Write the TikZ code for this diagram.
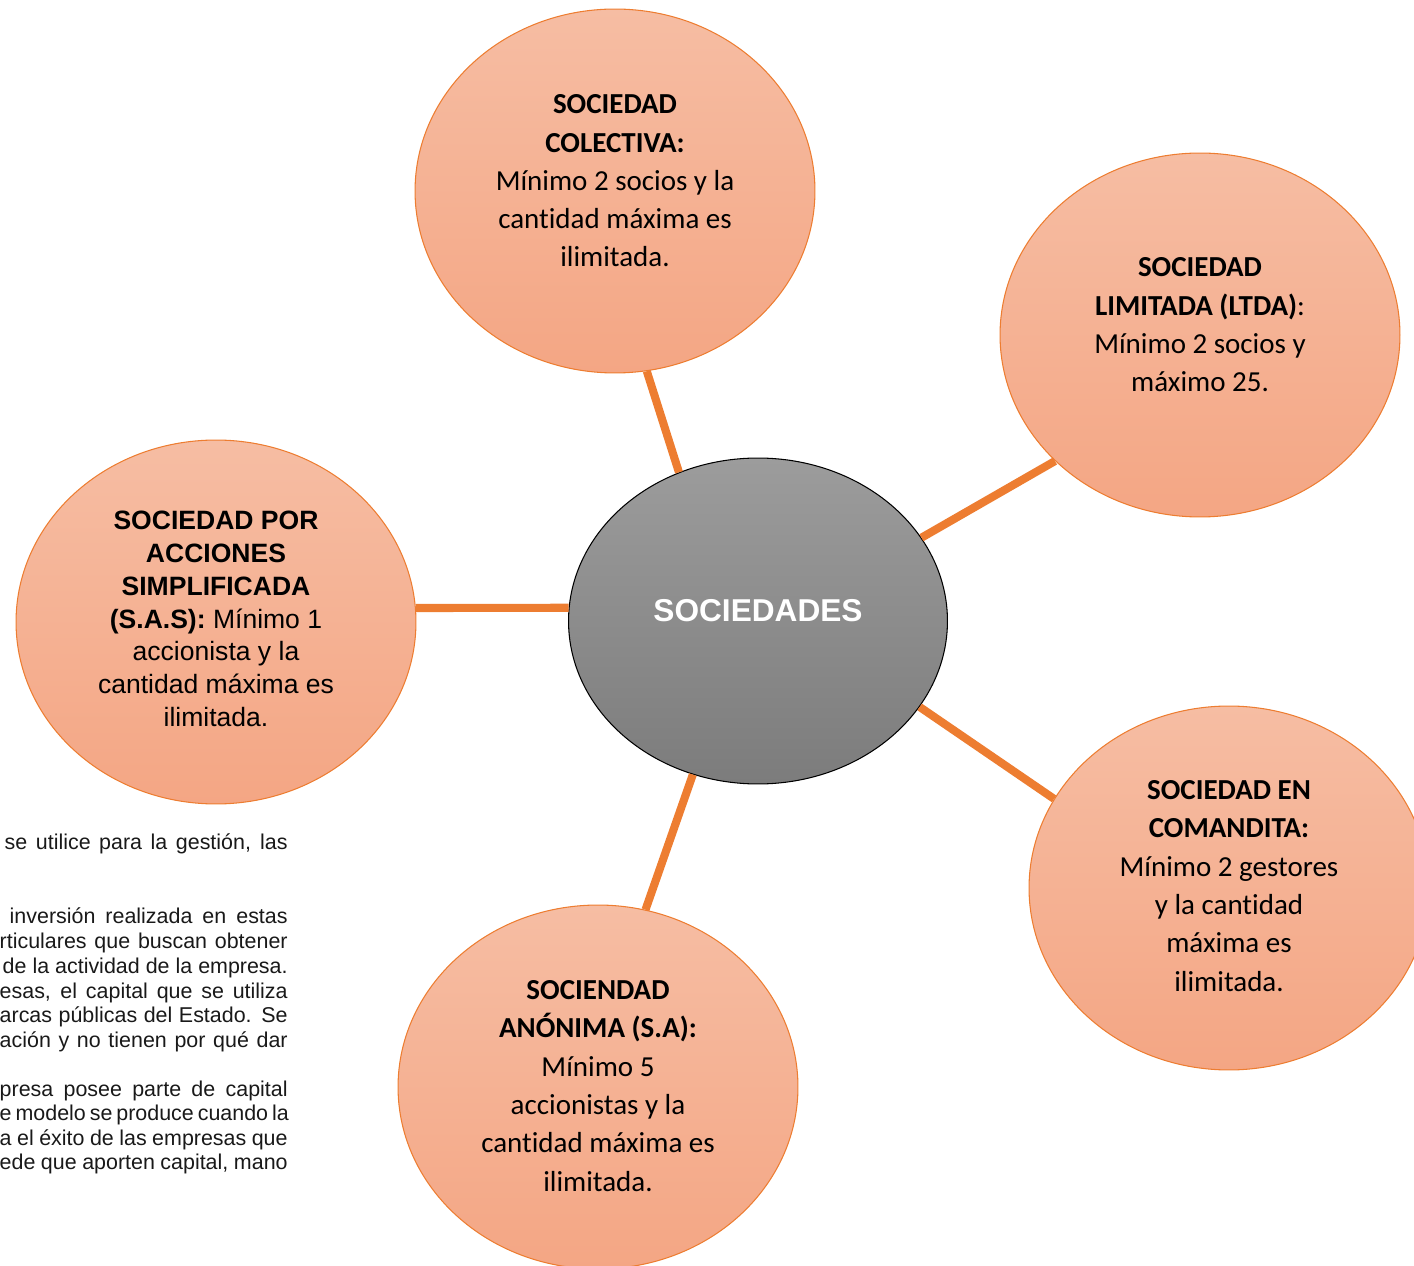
\documentclass[tikz,border=0pt]{standalone}
\usepackage{fontspec}
\setmainfont{Carlito}[Ligatures=NoCommon]
\newfontfamily\arialfont{Liberation Sans}
\usetikzlibrary{shapes.geometric}
\definecolor{bubtop}{HTML}{F6BDA3}
\definecolor{bubbot}{HTML}{F4A684}
\definecolor{linkor}{HTML}{ED7D31}
\definecolor{hubtop}{HTML}{9C9C9C}
\definecolor{hubbot}{HTML}{7C7C7C}

\begin{document}
\begin{tikzpicture}[x=0.02cm,y=-0.02cm,
  bubble/.style={ellipse,draw=linkor,line width=0.6pt,top color=bubtop,bottom color=bubbot,
    minimum width=8cm,minimum height=7.28cm,inner sep=0pt},
  hub/.style={ellipse,draw=black,line width=0.6pt,top color=hubtop,bottom color=hubbot,
    minimum width=7.58cm,minimum height=6.52cm,inner sep=0pt},
  hubtext/.style={text=white,font=\arialfont\bfseries\fontsize{18}{22}\selectfont},
  btext/.style={align=center,inner sep=0pt,font=\fontsize{16.5}{21.8}\selectfont},
  atext/.style={align=center,inner sep=0pt,font=\arialfont\fontsize{15.1}{18.7}\selectfont},
  link/.style={draw=linkor,line width=4.6pt},
  bgline/.style={anchor=base east,inner sep=0pt,text=black!90,
    font=\arialfont\fontsize{12.2}{13.9}\selectfont}
  ]
\useasboundingbox (0,0) rectangle (1414,1266);
\clip (0,0) rectangle (1414,1266);

% text of the page behind the diagram
\node[bgline] (p1) at (288,850) {\makebox[5.66cm][s]{se utilice para la gestión, las}};
\node[bgline] (p2) at (288,924) {\makebox[5.56cm][s]{inversión realizada en estas}};
\node[bgline] (p3) at (288,949) {\makebox[5.76cm][s]{rticulares que buscan obtener}};
\node[bgline] (p4) at (288,973) {\makebox[5.70cm][s]{de la actividad de la empresa.}};
\node[bgline] (p5) at (288,998) {\makebox[5.76cm][s]{esas, el capital que se utiliza}};
\node[bgline] (p6) at (288,1022) {\makebox[5.76cm][s]{arcas públicas del Estado. Se}};
\node[bgline] (p7) at (288,1047) {\makebox[5.76cm][s]{ación y no tienen por qué dar}};
\node[bgline] (p8) at (288,1096) {\makebox[5.76cm][s]{presa posee parte de capital}};
\node[bgline] (p9) at (288,1120) {\makebox[5.76cm][s]{e modelo se produce cuando la}};
\node[bgline] (p10) at (288,1145) {\makebox[5.76cm][s]{a el éxito de las empresas que}};
\node[bgline] (p11) at (288,1169) {\makebox[5.76cm][s]{ede que aporten capital, mano}};

% bubbles
\node[hub] (hub) at (758,621) {};
\node[bubble] (col) at (615,191) {};
\node[bubble] (lim) at (1200,335) {};
\node[bubble] (sas) at (216,622) {};
\node[bubble] (com) at (1229,888) {};
\node[bubble] (ano) at (598,1087) {};

\node[hubtext] (hubT) at (758,611) {SOCIEDADES};
\node[btext] (colT) at (615,181) {\textbf{SOCIEDAD}\\\textbf{COLECTIVA:}\\Mínimo 2 socios y la\\cantidad máxima es\\ilimitada.};
\node[btext] (limT) at (1200,325) {\textbf{SOCIEDAD}\\\textbf{LIMITADA (LTDA)}:\\Mínimo 2 socios y\\máximo 25.};
\node[atext] (sasT) at (216,619) {\textbf{SOCIEDAD POR}\\\textbf{ACCIONES}\\\textbf{SIMPLIFICADA}\\\textbf{(S.A.S):} Mínimo 1\\accionista y la\\cantidad máxima es\\ilimitada.};
\node[btext] (comT) at (1229,886) {\textbf{SOCIEDAD EN}\\\textbf{COMANDITA:}\\Mínimo 2 gestores\\y la cantidad\\máxima es\\ilimitada.};
\node[btext] (anoT) at (598,1086) {\textbf{SOCIENDAD}\\\textbf{ANÓNIMA (S.A):}\\Mínimo 5\\accionistas y la\\cantidad máxima es\\ilimitada.};

% spokes
\draw[link] (col.-80.4) -- (hub.118.3);
\draw[link] (lim.-139.6) -- (hub.27.1);
\draw[link] (sas.4) -- (hub.176);
\draw[link] (com.153.3) -- (hub.-28.8);
\draw[link] (ano.75) -- (hub.-113.2);
\end{tikzpicture}
\end{document}
